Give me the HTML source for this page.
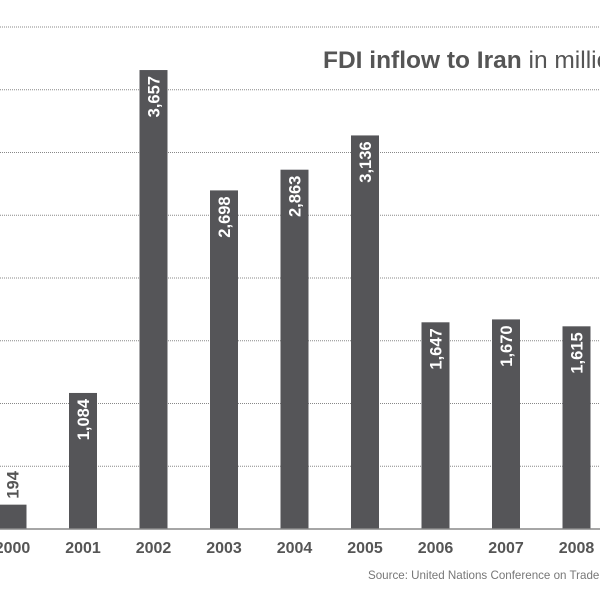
<!DOCTYPE html>
<html><head><meta charset="utf-8"><style>
body{margin:0;background:#fff;width:600px;height:595px;overflow:hidden}
svg{display:block;font-family:"Liberation Sans",Arial,sans-serif}
</style></head><body>
<svg id="chart" width="600" height="595" viewBox="0 0 600 595">
<text x="323" y="68" font-size="24.5" fill="#555"><tspan font-weight="bold">FDI inflow to Iran</tspan> in millions</text>
<text x="368" y="579" font-size="11.6" fill="#777">Source: United Nations Conference on Trade and Development</text>
<g id="grid"></g><g id="bars"></g>
<line x1="0" x2="600" y1="529" y2="529" stroke="#888" stroke-width="1.5"/>
</svg>
<script>
const years=["2000","2001","2002","2003","2004","2005","2006","2007","2008"];
const values=[194,1084,3657,2698,2863,3136,1647,1670,1615];
const labels=["194","1,084","3,657","2,698","2,863","3,136","1,647","1,670","1,615"];
const gridTicks=[500,1000,1500,2000,2500,3000,3500,4000];
const NS="http://www.w3.org/2000/svg";
const y=v=>529-v*0.1255;
const xc=i=>12.5+70.5*i;
const g=document.getElementById('grid'),b=document.getElementById('bars');
gridTicks.forEach(t=>{const l=document.createElementNS(NS,'line');


l.setAttribute('x1',0);l.setAttribute('x2',600);l.setAttribute('y1',y(t));l.setAttribute('y2',y(t));
l.setAttribute('stroke','#888');l.setAttribute('stroke-dasharray','1 1');l.setAttribute('stroke-width','1');g.appendChild(l);});
years.forEach((yr,i)=>{const r=document.createElementNS(NS,'rect');


r.setAttribute('x',xc(i)-14);r.setAttribute('width',28);r.setAttribute('y',y(values[i]));r.setAttribute('height',529-y(values[i]));
r.setAttribute('fill','#555558');b.appendChild(r);
const t=document.createElementNS(NS,'text');


t.setAttribute('x',xc(i));t.setAttribute('y',553);t.setAttribute('text-anchor','middle');t.setAttribute('font-size','16');t.setAttribute('font-weight','bold');t.setAttribute('fill','#555');t.textContent=yr;b.appendChild(t);
const v=document.createElementNS(NS,'text');


const small=values[i]<500;
const ty=small?y(values[i])-6:y(values[i])+6;
v.setAttribute('transform','translate('+(xc(i)+6)+','+ty+') rotate(-90)');
v.setAttribute('text-anchor','end');v.setAttribute('font-size','16.5');v.setAttribute('font-weight','bold');
v.setAttribute('fill',small?'#555':'#fff');
if(small){v.setAttribute('text-anchor','start');}
v.textContent=labels[i];b.appendChild(v);});
</script>
</body></html>
